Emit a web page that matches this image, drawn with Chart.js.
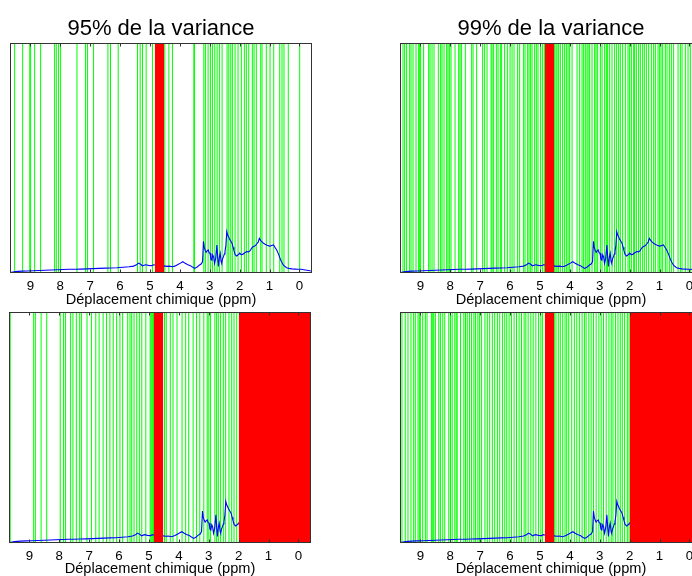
<!DOCTYPE html>
<html lang="fr">
<head>
<meta charset="utf-8">
<title>Variance</title>
<script src="https://cdn.jsdelivr.net/npm/chart.js@4.4.1/dist/chart.umd.min.js"></script>
<style>
  html, body { margin: 0; padding: 0; background: #fff; overflow: hidden; }
  body { width: 692px; height: 576px; position: relative; }
  canvas { position: absolute; }
</style>
</head>
<body>
<canvas id="c95" width="346" height="310" style="left:0;top:0"></canvas>
<canvas id="c99" width="360" height="310" style="left:346px;top:0"></canvas>
<canvas id="c95b" width="346" height="286" style="left:0;top:290px"></canvas>
<canvas id="c99b" width="360" height="286" style="left:346px;top:290px"></canvas>
<script>
// axe des ppm (inversé)
const graduations = [9, 8, 7, 6, 5, 4, 3, 2, 1, 0];
const ppmMin = -0.42;
const ppmMax = 9.68;
const intensiteMax = 100;

// spectre moyen
const spectrePpm = [
  9.66, 9.5, 9.3, 9.1, 8.9, 8.7, 8.5, 8.3, 8.1, 7.9, 7.7, 7.5, 7.3, 7.1, 6.9, 6.7, 6.5, 6.3, 6.1, 5.9,
  5.7, 5.55, 5.45, 5.38, 5.3, 5.25, 5.15, 5.05, 4.95, 4.88, 4.84, 4.7, 4.52, 4.45, 4.35, 4.25, 4.15, 4.05,
  3.98, 3.9, 3.82, 3.75, 3.65, 3.58, 3.5, 3.42, 3.35, 3.28, 3.24, 3.21, 3.18, 3.15, 3.12, 3.09, 3.05, 3.02,
  2.99, 2.96, 2.93, 2.9, 2.87, 2.84, 2.8, 2.76, 2.73, 2.71, 2.68, 2.65, 2.62, 2.6, 2.57, 2.54, 2.51, 2.49,
  2.46, 2.43, 2.4, 2.37, 2.34, 2.31, 2.28, 2.25, 2.22, 2.19, 2.15, 2.1, 2.06, 2.02, 1.99, 1.95, 1.9, 1.85,
  1.8, 1.76, 1.7, 1.65, 1.6, 1.54, 1.48, 1.43, 1.38, 1.34, 1.3, 1.26, 1.2, 1.15, 1.08, 1.02, 0.98, 0.93,
  0.87, 0.82, 0.76, 0.7, 0.65, 0.6, 0.54, 0.48, 0.43, 0.35, 0.25, 0.15, 0.05, -0.05, -0.15, -0.25, -0.35, -0.42
];
const spectreIntensite = [
  0.2, 0.6, 0.8, 0.9, 1.0, 1.1, 1.2, 1.3, 1.4, 1.5, 1.6, 1.6, 1.7, 1.8, 1.9, 2.0, 2.1, 2.2, 2.3, 2.5,
  2.7, 3.0, 3.6, 4.3, 3.7, 3.1, 3.6, 3.3, 3.2, 3.6, 3.5, 3.0, 3.1, 2.9, 3.0, 2.7, 3.1, 3.8,
  4.3, 4.9, 4.2, 3.7, 3.2, 2.6, 2.0, 2.6, 3.4, 4.0, 5.0, 13.8, 11.0, 9.8, 9.0, 9.6, 10.0, 8.8,
  8.6, 6.0, 5.6, 7.9, 7.0, 4.2, 6.5, 12.2, 6.0, 2.8, 6.8, 8.6, 5.0, 4.2, 6.2, 7.1, 8.3, 9.3,
  12.0, 18.0, 16.5, 15.8, 14.8, 14.2, 13.5, 12.8, 11.2, 9.8, 8.0, 7.4, 7.8, 8.3, 8.6, 8.0, 8.1, 8.6,
  9.0, 9.3, 9.2, 9.7, 10.8, 11.5, 11.8, 12.6, 13.4, 15.1, 14.2, 13.6, 12.9, 12.5, 12.1, 11.8, 11.7, 12.0,
  12.2, 11.2, 10.0, 8.2, 6.4, 4.9, 3.5, 2.8, 2.3, 2.0, 1.8, 1.7, 1.6, 1.6, 1.4, 1.2, 1.0, 0.9
];

// variables retenues (ppm)
const lignes95 = [
  9.524, 9.257, 9.02, 8.99, 8.856, 8.656, 8.188, 8.132, 8.055, 7.988, 7.44, 7.153, 7.086, 6.886, 6.405,
  6.318, 6.061, 5.416, 5.326, 5.249, 5.126, 4.915, 4.501, 4.367, 4.247, 3.532, 3.51, 3.198, 3.145, 3.055,
  2.978, 2.911, 2.831, 2.754, 2.677, 2.587, 2.42, 2.363, 2.297, 2.243, 2.153, 2.053, 1.942, 1.842, 1.776,
  1.696, 1.575, 1.518, 1.442, 1.295, 1.251, 1.108, 0.984, 0.86, 0.66, 0.583, 0.517, 0.373, -0.008
];
const lignes99 = [
  9.58, 9.525, 9.458, 9.358, 9.311, 9.244, 9.144, 9.057, 9.023, 8.99, 8.89, 8.722, 8.676, 8.609, 8.542,
  8.398, 8.321, 8.274, 8.207, 8.12, 8.074, 8.02, 7.973, 7.839, 7.719, 7.672, 7.619, 7.495, 7.284, 7.237,
  7.117, 6.916, 6.849, 6.769, 6.635, 6.602, 6.548, 6.458, 6.401, 6.324, 6.281, 6.181, 6.09, 6.0, 5.933,
  5.866, 5.746, 5.679, 5.545, 5.498, 5.411, 5.365, 5.311, 5.264, 5.177, 5.12, 5.064, 4.977, 4.91, 4.853,
  4.508, 4.462, 4.428, 4.375, 4.318, 4.241, 4.174, 4.117, 4.06, 4.007, 3.926, 3.759, 3.672, 3.592, 3.538,
  3.482, 3.425, 3.391, 3.338, 3.258, 3.171, 3.124, 3.07, 2.98, 2.923, 2.836, 2.779, 2.736, 2.669, 2.589,
  2.502, 2.435, 2.368, 2.311, 2.234, 2.144, 2.054, 2.0, 1.943, 1.866, 1.833, 1.776, 1.699, 1.642, 1.565,
  1.508, 1.441, 1.364, 1.274, 1.197, 1.14, 1.05, 0.997, 0.95, 0.896, 0.806, 0.749, 0.672, 0.605, 0.528,
  0.381, 0.304, 0.247, 0.137, 0.047, -0.03
];
const lignes95Bas = [
  9.64, 8.855, 8.798, 8.606, 8.418, 7.966, 7.855, 7.788, 7.62, 7.542, 7.428, 7.316, 7.259, 7.071, 6.923,
  6.778, 6.667, 6.532, 6.418, 6.306, 6.195, 6.081, 5.97, 5.879, 5.71, 5.633, 5.576, 5.498, 5.407, 5.32,
  5.239, 5.104, 4.96, 4.93, 4.9, 4.87, 4.85, 4.478, 4.421, 4.286, 4.195, 4.061, 3.892, 3.771, 3.67,
  3.522, 3.411, 3.3, 3.165, 3.05, 2.997, 2.939, 2.795, 2.737, 2.68, 2.603, 2.512, 2.434, 2.323, 2.232,
  2.155, 2.064
];
const lignes99Bas = [
  9.615, 9.504, 9.413, 9.313, 9.224, 9.168, 9.077, 9.034, 9.0, 8.921, 8.832, 8.776, 8.63, 8.586, 8.552,
  8.496, 8.384, 8.328, 8.25, 8.183, 8.049, 7.992, 7.935, 7.847, 7.8, 7.767, 7.656, 7.545, 7.488, 7.431,
  7.354, 7.286, 7.209, 7.152, 7.075, 7.017, 6.95, 6.839, 6.76, 6.682, 6.592, 6.513, 6.423, 6.345, 6.255,
  6.177, 6.11, 6.032, 5.953, 5.864, 5.784, 5.697, 5.616, 5.529, 5.472, 5.394, 5.304, 5.226, 5.136, 5.045,
  4.968, 4.911, 4.52, 4.464, 4.386, 4.319, 4.239, 4.161, 4.105, 4.037, 3.937, 3.849, 3.768, 3.681, 3.59,
  3.513, 3.456, 3.365, 3.288, 3.21, 3.12, 3.029, 2.952, 2.874, 2.784, 2.693, 2.616, 2.558, 2.471, 2.39,
  2.313, 2.246, 2.168, 2.077, 2.021
];

// zones exclues [ppm bas, ppm haut]
const zonesHaut = [[4.52, 4.84]];
const zonesBas = [[4.52, 4.84], [-0.42, 2.0]];

const NOIR = '#000';
const CADRE = '#333';
Chart.defaults.font.family = '"Liberation Sans", Arial, Helvetica, sans-serif';
Chart.defaults.color = NOIR;

const cadreAxes = {
  id: 'cadreAxes',
  afterDatasetsDraw(chart) {
    const { ctx, chartArea: a, scales: { x } } = chart;
    const l = Math.round(a.left) + 0.5, r = Math.round(a.right) - 0.5;
    const t = Math.round(a.top) + 0.5, b = Math.round(a.bottom) - 0.5;
    ctx.save();
    ctx.strokeStyle = CADRE;
    ctx.lineWidth = 1;
    ctx.strokeRect(l, t, r - l, b - t);
    ctx.beginPath();
    x.ticks.forEach(tk => {
      const px = Math.round(x.getPixelForValue(tk.value)) + 0.5;
      ctx.moveTo(px, b); ctx.lineTo(px, b - 3);
      ctx.moveTo(px, t); ctx.lineTo(px, t + 3);
    });
    ctx.stroke();
    ctx.restore();
  }
};

function dessiner(id, titre, lignes, zones, pad) {
  const datasets = [
    ...zones.map(([bas, haut]) => ({
      data: [{ x: haut, y: intensiteMax }, { x: bas, y: intensiteMax }],
      fill: 'start', backgroundColor: '#ff0000', borderColor: '#ff0000', borderWidth: 0, pointRadius: 0
    })),
    {
      data: spectrePpm.map((p, i) => ({ x: p, y: spectreIntensite[i] })),
      borderColor: '#0000ff', borderWidth: 1.1, pointRadius: 0, fill: false
    },
    {
      data: lignes.flatMap(p => [{ x: p, y: 0 }, { x: p, y: intensiteMax }, { x: p, y: null }]),
      borderColor: '#00ff00', borderWidth: 1, pointRadius: 0, fill: false, spanGaps: false
    }
  ];

  new Chart(document.getElementById(id), {
    type: 'line',
    data: { datasets },
    plugins: [cadreAxes],
    options: {
      responsive: false,
      animation: false,
      events: [],
      layout: { padding: { left: pad.left, right: pad.right, top: pad.top, bottom: 0 } },
      plugins: {
        legend: { display: false },
        tooltip: { enabled: false },
        title: {
          display: !!titre,
          text: titre,
          color: NOIR,
          font: { size: 22, weight: 'normal', lineHeight: 1.2 },
          padding: { top: 16, bottom: 0.6 }
        }
      },
      scales: {
        x: {
          type: 'linear',
          reverse: true,
          min: ppmMin,
          max: ppmMax,
          afterBuildTicks: s => { s.ticks = graduations.map(v => ({ value: v })); },
          afterFit: s => { s.height = pad.axe; },
          grid: { display: false, drawTicks: false },
          border: { display: false },
          ticks: { color: NOIR, padding: 5, maxRotation: 0, autoSkip: false, font: { size: 13.3, lineHeight: 1.2 } },
          title: {
            display: true,
            text: 'Déplacement chimique (ppm)',
            color: NOIR,
            font: { size: 14.6, lineHeight: 1 },
            padding: { top: 0, bottom: pad.titreBas }
          }
        },
        y: { display: false, min: 0, max: intensiteMax }
      }
    }
  });
}

dessiner('c95', '95% de la variance', lignes95, zonesHaut, { left: 10, right: 34, top: 0, axe: 37, titreBas: 3 });
dessiner('c99', '99% de la variance', lignes99, zonesHaut, { left: 54, right: 4, top: 0, axe: 37, titreBas: 3 });
dessiner('c95b', '', lignes95Bas, zonesBas, { left: 9, right: 35, top: 22, axe: 33, titreBas: 0 });
dessiner('c99b', '', lignes99Bas, zonesBas, { left: 54, right: 4, top: 22, axe: 33, titreBas: 0 });
</script>
</body>
</html>
